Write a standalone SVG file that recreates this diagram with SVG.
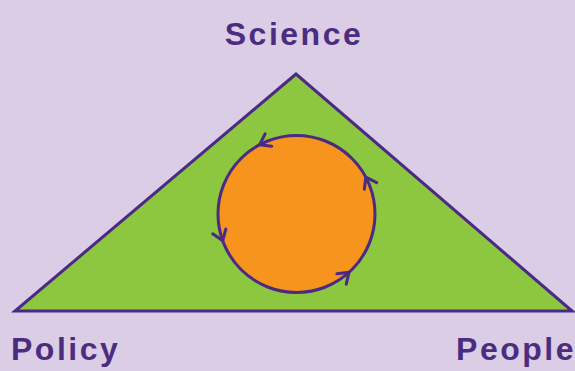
<svg xmlns="http://www.w3.org/2000/svg" xmlns:xlink="http://www.w3.org/1999/xlink" width="575" height="371" viewBox="0 0 575 371">
<style>
.lbl{font-family:"Liberation Sans",Arial,sans-serif;font-weight:bold;font-size:32px;fill:#4b2d80;letter-spacing:2.5px}
.edge{fill:none;stroke:#4a2a85;stroke-width:3;stroke-linejoin:round;stroke-linecap:round}
</style>
<defs>
<path id="chev" d="M -10,-7 L 0,0 L -10,7" class="edge"/>
</defs>
<rect width="575" height="371" fill="#dccde6"/>
<g id="triangle">
<polygon points="296,74 15,311 572,311" fill="#8dc63f" stroke="#4a2a85" stroke-width="3" stroke-linejoin="miter"/>
</g>
<g id="cycle">
<circle cx="296.5" cy="214" r="78.5" fill="#f7941d" stroke="#4a2a85" stroke-width="3"/>
</g>
<g id="connectors">
<use xlink:href="#chev" transform="translate(259.6,144.7) rotate(152)"/>
<use xlink:href="#chev" transform="translate(222.7,240.8) rotate(70)"/>
<use xlink:href="#chev" transform="translate(349,272.3) rotate(-42)"/>
<use xlink:href="#chev" transform="translate(365.8,177.1) rotate(242)"/>
</g>
<g id="science"><text class="lbl" x="294" y="45" text-anchor="middle">Science</text></g>
<g id="policy"><text class="lbl" x="11" y="360">Policy</text></g>
<g id="people"><text class="lbl" x="576" y="360" text-anchor="end">People</text></g>
</svg>
